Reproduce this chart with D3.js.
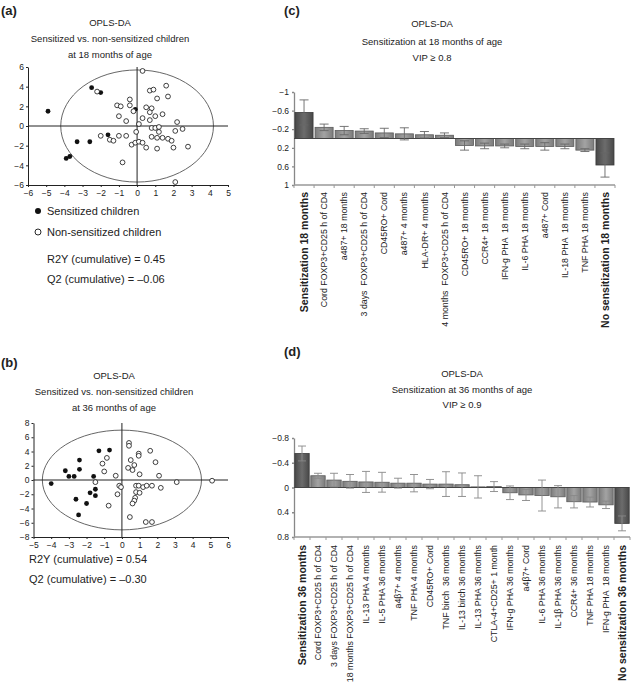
<!DOCTYPE html>
<html>
<head>
<meta charset="utf-8">
<script src="https://cdn.jsdelivr.net/npm/d3@7"></script>
<style>
  body { margin: 0; background: #fff; }
  svg text { font-family: "Liberation Sans", Arial, sans-serif; fill: #222; }
</style>
</head>
<body>
<div id="chart"></div>
<script>
// ---- data: score plots (t[1] vs to[1]) ----
var sens18 = [[-4.9,1.5],[-2.5,3.9],[-2.0,3.4],[-0.1,1.7],[-3.3,-1.6],[-2.6,-1.6],[-1.6,-0.9],[-3.9,-3.3],[-3.7,-3.1]];
var nonSens18 = [[-2.2,3.5],[0.3,5.6],[0.7,3.6],[0.9,3.7],[1.6,4.1],[1.7,3.0],[1.1,2.8],[-0.4,2.7],
  [-1.1,2.1],[-0.9,2.0],[-0.4,2.1],[-0.2,1.5],[0.5,1.9],[0.8,1.8],[0.7,1.4],[1.4,1.2],[-1.0,1.0],
  [-0.6,0.5],[0.3,0.8],[1.0,1.0],[0.7,0.6],[2.2,0.4],[0.1,0.2],[2.1,-0.5],[2.5,-0.3],[0.8,-0.2],
  [1.0,-0.2],[1.2,-0.1],[1.2,-0.6],[-2.0,-1.0],[-1.0,-1.0],[-0.6,-1.0],[-0.05,-0.6],[-1.5,-1.4],
  [-1.3,-1.5],[0.8,-1.1],[1.1,-1.2],[1.4,-1.2],[1.7,-1.3],[1.9,-1.5],[-0.3,-1.9],[-0.1,-1.7],
  [0.1,-1.6],[0.3,-1.7],[0.5,-2.2],[1.1,-2.3],[2.0,-2.2],[2.8,-2.1],[-0.8,-3.7],[2.1,-5.7]];
var sens36 = [[-4.0,-0.5],[-3.2,1.3],[-3.0,0.5],[-2.7,0.5],[-2.4,1.5],[-2.4,2.8],[-1.3,4.1],[-0.7,4.2],
  [-1.6,0.5],[-1.5,-1.3],[-1.8,-1.8],[-1.5,-2.2],[-2.6,-2.7],[-2.0,-3.3],[-2.45,-4.9]];
var nonSens36 = [[-1.5,-0.3],[-1.1,2.3],[-0.85,3.1],[-1.0,1.2],[-0.35,0.6],[-0.15,-0.8],[-0.05,-1.0],
  [-0.25,-2.0],[-0.75,-3.6],[0.4,5.2],[0.4,4.8],[0.5,2.8],[0.7,2.1],[0.35,1.7],[0.6,1.4],[0.95,3.7],
  [0.95,3.4],[1.6,4.1],[1.9,2.5],[1.0,0.8],[2.1,0.6],[3.1,-0.3],[5.1,-0.1],[0.8,-0.8],[0.95,-0.8],
  [1.2,-1.0],[1.4,-0.8],[1.7,-0.8],[2.2,-1.1],[0.8,-1.7],[1.0,-1.8],[0.75,-2.5],[0.7,-2.9],[0.6,-3.3],
  [0.45,-5.2],[1.35,-5.9],[1.7,-5.9]];

// ---- data: loading column plots ----
var cLabels = ["Sensitization 18 months","Cord FOXP3+CD25 h of CD4","a487+ 18 months","3 days  FOXP3+CD25 h of CD4",
  "CD45RO+ Cord","a487+ 4 months","HLA-DR+ 4 months","4 months  FOXP3+CD25 h of CD4","CD45RO+ 18 months",
  "CCR4+ 18 months","IFN-g PHA  18 months","IL-6 PHA 18 months","a487+ Cord","IL-18 PHA  18 months",
  "TNF PHA 18 months","No sensitization 18 months"];
var cValues = [-0.56,-0.24,-0.17,-0.16,-0.12,-0.10,-0.08,-0.07,0.15,0.16,0.16,0.17,0.17,0.17,0.25,0.57];
var cErrors = [0.27,0.07,0.09,0.05,0.10,0.13,0.07,0.05,0.10,0.06,0.04,0.05,0.08,0.05,0.03,0.26];
var cTicks = [-1,-0.6,-0.2,0.2,0.6,1];

var dLabels = ["Sensitization 36 months","Cord FOXP3+CD25 h of CD4","3 days FOXP3+CD25 h of CD4",
  "18 months FOXP3+CD25 h of CD4","IL-13 PHA 4 months","IL-5 PHA 36 months","a4\u03B27+ 4 months",
  "TNF PHA 4 months","CD45RO+ Cord","TNF birch  36 months","IL-13 birch 36 months","IL-13 PHA 36 months",
  "CTLA-4+CD25+ 1 month","IFN-g PHA 36 months","a4\u03B27+ Cord","IL-6 PHA 36 months","IL-1\u03B2 PHA 36 months",
  "CCR4+ 36 months","TNF PHA 18 months","IFN-g PHA  18 months","No sensitization 36 months"];
var dValues = [-0.55,-0.19,-0.12,-0.10,-0.09,-0.085,-0.07,-0.07,-0.055,-0.055,-0.045,-0.01,-0.015,
  0.085,0.12,0.13,0.15,0.23,0.235,0.28,0.58];
var dErrors = [0.12,0.04,0.11,0.11,0.17,0.16,0.08,0.14,0.075,0.20,0.19,0.18,0.08,0.11,0.09,0.25,0.18,
  0.10,0.08,0.06,0.12];
var dTicks = [-0.8,-0.4,0,0.4,0.8];

var svg = d3.select("#chart").append("svg").attr("width", 631).attr("height", 687);

var defs = svg.append("defs");
function grad(id, edge, mid) {
  var g = defs.append("linearGradient").attr("id", id).attr("x1", "0%").attr("x2", "100%");
  g.append("stop").attr("offset", "0%").attr("stop-color", edge);
  g.append("stop").attr("offset", "50%").attr("stop-color", mid);
  g.append("stop").attr("offset", "100%").attr("stop-color", edge);
}
grad("gMid", "#7b7b7b", "#a3a3a3");
grad("gDark", "#484848", "#6c6c6c");

function fmt(v) { return (v < 0 ? "\u2212" : "") + Math.abs(v); }

function titleLines(cx, ys, lines) {
  lines.forEach(function (t, i) {
    svg.append("text").attr("x", cx).attr("y", ys[i]).attr("text-anchor", "middle")
      .style("font-size", "9.5px").text(t);
  });
}
function panelLetter(x, y, t) {
  svg.append("text").attr("x", x).attr("y", y).style("font-size", "13px")
    .style("font-weight", "bold").text(t);
}

// ---------- score plot ----------
function scorePlot(o) {
  var x = d3.scaleLinear().domain(o.xd).range(o.xr);
  var y = d3.scaleLinear().domain(o.yd).range(o.yr);
  var g = svg.append("g");

  g.append("ellipse").attr("cx", x(0)).attr("cy", y(0))
    .attr("rx", x(o.rx) - x(0)).attr("ry", y(0) - y(o.ry))
    .attr("fill", "none").attr("stroke", "#555").attr("stroke-width", 0.9);

  g.append("line").attr("x1", o.xr[0]).attr("x2", o.xr[1]).attr("y1", y(0)).attr("y2", y(0))
    .attr("stroke", "#222").attr("stroke-width", 1);
  g.append("line").attr("x1", x(0)).attr("x2", x(0)).attr("y1", o.yr[0]).attr("y2", o.yr[1])
    .attr("stroke", "#222").attr("stroke-width", 1);

  var ax = g.append("g").attr("transform", "translate(0," + o.yr[0] + ")")
    .call(d3.axisBottom(x).tickValues(d3.range(o.xd[0], o.xd[1] + 1)).tickFormat(fmt)
      .tickSize(2).tickSizeOuter(0).tickPadding(3));
  var ay = g.append("g").attr("transform", "translate(" + o.xr[0] + ",0)")
    .call(d3.axisLeft(y).tickValues(d3.range(o.yd[0], o.yd[1] + 1, 2)).tickFormat(fmt)
      .tickSize(2).tickSizeOuter(0).tickPadding(2));
  [ax, ay].forEach(function (a) {
    a.selectAll("path,line").attr("stroke", "#222");
    a.selectAll("text").style("font-size", "8.5px").attr("fill", "#222");
  });

  g.selectAll(".s").data(o.sens).enter().append("circle")
    .attr("cx", function (d) { return x(d[0]); }).attr("cy", function (d) { return y(d[1]); })
    .attr("r", 2.4).attr("fill", "#111");
  g.selectAll(".n").data(o.non).enter().append("circle")
    .attr("cx", function (d) { return x(d[0]); }).attr("cy", function (d) { return y(d[1]); })
    .attr("r", 2.4).attr("fill", "#fff").attr("stroke", "#111").attr("stroke-width", 0.8);
}

scorePlot({ xd: [-6, 5], xr: [28, 228], yd: [-6, 6], yr: [185, 67], rx: 4.2, ry: 5.7,
  sens: sens18, non: nonSens18 });
scorePlot({ xd: [-5, 6], xr: [33.5, 228], yd: [-8, 8], yr: [537, 423], rx: 4.5, ry: 7,
  sens: sens36, non: nonSens36 });

panelLetter(1, 15, "(a)");
titleLines(110, [26, 42, 58], ["OPLS-DA", "Sensitized vs. non-sensitized children", "at 18 months of age"]);
svg.append("circle").attr("cx", 38).attr("cy", 211).attr("r", 3).attr("fill", "#111");
svg.append("circle").attr("cx", 38).attr("cy", 232).attr("r", 3).attr("fill", "#fff")
  .attr("stroke", "#111").attr("stroke-width", 0.9);
[["Sensitized children", 215], ["Non-sensitized children", 236],
 ["R2Y (cumulative) = 0.45", 263], ["Q2 (cumulative) = \u20130.06", 283]].forEach(function (t) {
  svg.append("text").attr("x", 47).attr("y", t[1]).style("font-size", "11px").text(t[0]);
});

panelLetter(1, 367, "(b)");
titleLines(114, [379, 395, 411], ["OPLS-DA", "Sensitized vs. non-sensitized children", "at 36 months of age"]);
[["R2Y (cumulative) = 0.54", 563], ["Q2 (cumulative) = \u20130.30", 583]].forEach(function (t) {
  svg.append("text").attr("x", 29).attr("y", t[1]).style("font-size", "11px").text(t[0]);
});

// ---------- column plot ----------
function columnPlot(o) {
  var x = d3.scaleBand().domain(o.labels).range(o.xr).paddingInner(o.pad).paddingOuter(o.pad / 2);
  var y = d3.scaleLinear().domain(o.yd).range(o.yr);
  var g = svg.append("g");
  var n = o.labels.length;

  var ay = g.append("g").attr("transform", "translate(" + o.xr[0] + ",0)")
    .call(d3.axisLeft(y).tickValues(o.ticks).tickFormat(fmt).tickSize(2).tickSizeOuter(0).tickPadding(3));
  ay.selectAll("path,line").attr("stroke", "#888").attr("stroke-width", 1.3);
  ay.selectAll("text").style("font-size", "8.5px").attr("fill", "#222");

  // bottom category axis line with ticks at band boundaries
  g.append("line").attr("x1", o.xr[0]).attr("x2", o.xr[1]).attr("y1", o.yr[1]).attr("y2", o.yr[1])
    .attr("stroke", "#999").attr("stroke-width", 1.5);
  g.selectAll(".bt").data(d3.range(n + 1)).enter().append("line")
    .attr("x1", function (i) { return o.xr[0] + i * x.step(); })
    .attr("x2", function (i) { return o.xr[0] + i * x.step(); })
    .attr("y1", o.yr[1]).attr("y2", o.yr[1] + 3).attr("stroke", "#999");

  g.selectAll(".bar").data(o.values).enter().append("rect")
    .attr("x", function (d, i) { return x(o.labels[i]); })
    .attr("width", x.bandwidth())
    .attr("y", function (d) { return y(Math.min(0, d)); })
    .attr("height", function (d) { return Math.abs(y(d) - y(0)); })
    .attr("fill", function (d, i) { return (i === 0 || i === n - 1) ? "url(#gDark)" : "url(#gMid)"; })
    .attr("stroke", function (d, i) { return (i === 0 || i === n - 1) ? "#3c3c3c" : "#5a5a5a"; })
    .attr("stroke-width", 0.8);

  g.append("line").attr("x1", o.xr[0]).attr("x2", x(o.labels[n - 1]) + x.bandwidth())
    .attr("y1", y(0)).attr("y2", y(0)).attr("stroke", "#444").attr("stroke-width", 1);

  o.values.forEach(function (v, i) {
    var cx = x(o.labels[i]) + x.bandwidth() / 2, e = o.errors[i], w = o.cap;
    var eg = g.append("g").attr("stroke", o.errColor).attr("stroke-width", 0.9);
    eg.append("line").attr("x1", cx).attr("x2", cx).attr("y1", y(v - e)).attr("y2", y(v + e));
    eg.append("line").attr("x1", cx - w).attr("x2", cx + w).attr("y1", y(v - e)).attr("y2", y(v - e));
    eg.append("line").attr("x1", cx - w).attr("x2", cx + w).attr("y1", y(v + e)).attr("y2", y(v + e));
  });

  g.selectAll(".lab").data(o.labels).enter().append("text")
    .attr("transform", function (d) {
      return "translate(" + (x(d) + x.bandwidth() / 2) + "," + o.labY + ") rotate(-90)";
    })
    .attr("text-anchor", "end").attr("dy", "0.35em")
    .style("font-size", function (d, i) { return (i === 0 || i === n - 1) ? "10.5px" : "8.8px"; })
    .style("font-weight", function (d, i) { return (i === 0 || i === n - 1) ? "bold" : "normal"; })
    .style("white-space", "pre")
    .text(function (d) { return d; });
}

columnPlot({ labels: cLabels, values: cValues, errors: cErrors, ticks: cTicks,
  xr: [294, 615], yd: [-1, 1], yr: [92, 185], pad: 0.1, cap: 4.5, errColor: "#666", labY: 192 });
columnPlot({ labels: dLabels, values: dValues, errors: dErrors, ticks: dTicks,
  xr: [294, 630], yd: [-0.8, 0.8], yr: [438, 537], pad: 0.1, cap: 4, errColor: "#888", labY: 545 });

panelLetter(284, 15, "(c)");
titleLines(432, [27, 45, 61], ["OPLS-DA", "Sensitization at 18 months of age", "VIP \u2265 0.8"]);
panelLetter(284, 356, "(d)");
titleLines(462, [377, 393, 408], ["OPLS-DA", "Sensitization at 36 months of age", "VIP \u2265 0.9"]);
</script>
</body>
</html>
